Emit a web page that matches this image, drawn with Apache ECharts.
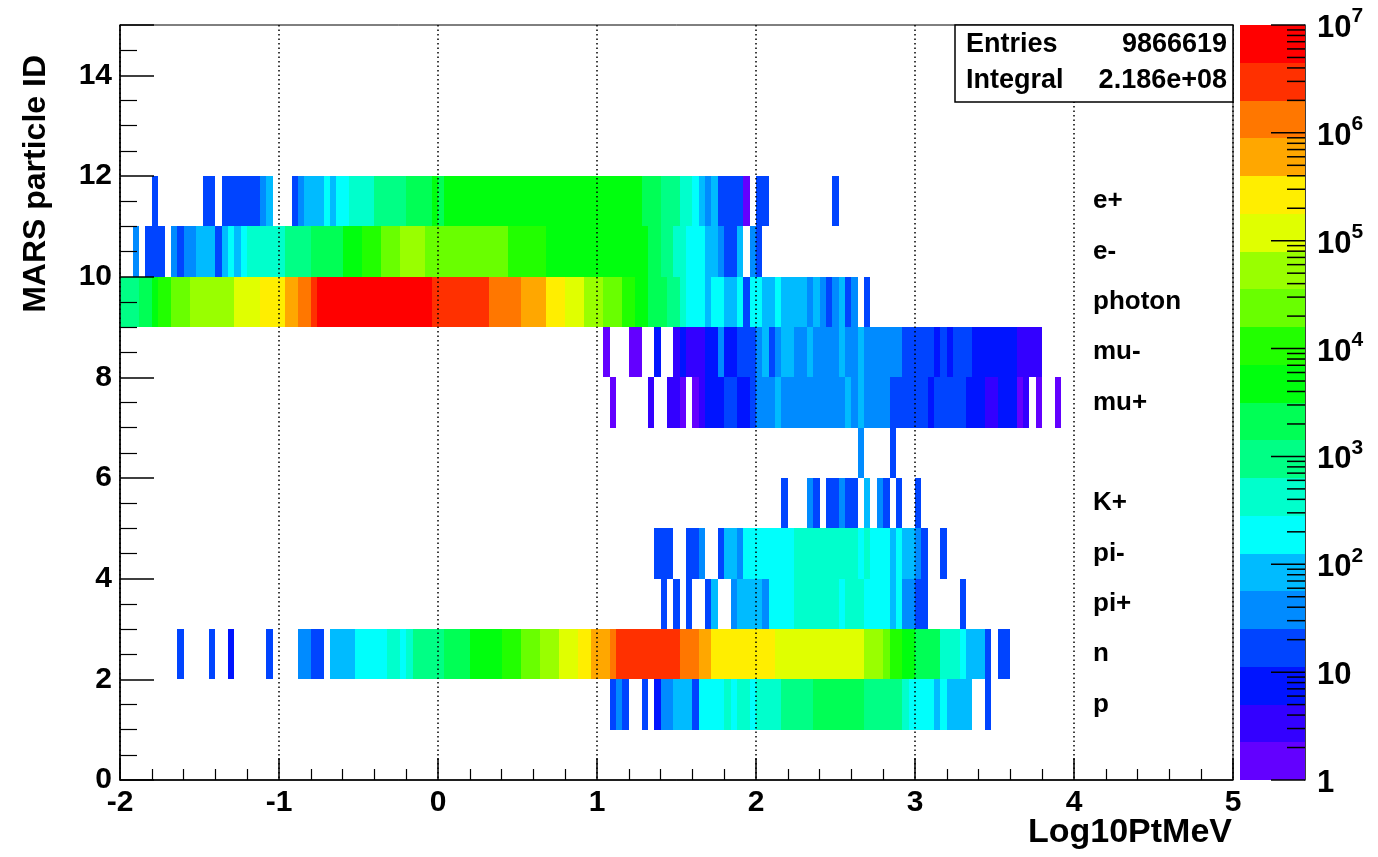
<!DOCTYPE html>
<html><head><meta charset="utf-8">
<script src="https://cdn.jsdelivr.net/npm/echarts@6/dist/echarts.min.js"></script>
<style>html,body{margin:0;padding:0;background:#fff}#c{width:1378px;height:857px}</style>
</head><body><div id="c"></div>
<script>
// ---- histogram binning (x = Log10PtMeV) ----
const xBinLow = -2, xBinWidth = 0.04;
const zLogMax = 7, zLevels = 20;

// ---- tick labels / names ----
const xTickValues = [-2, -1, 0, 1, 2, 3, 4, 5];
const yTickValues = [0, 2, 4, 6, 8, 10, 12, 14];
const zTickExponents = [0, 1, 2, 3, 4, 5, 6, 7];
const particleIds   = [11, 10, 9, 8, 7, 5, 4, 3, 2, 1];
const particleNames = ['e+', 'e-', 'photon', 'mu-', 'mu+', 'K+', 'pi-', 'pi+', 'n', 'p'];
const statsNames  = ['Entries', 'Integral'];
const statsValues = ['9866619', '2.186e+08'];

// ---- bin contents per particle ID row (first bin index + counts) ----
const ePlusFirstBin = 5;
const ePlusCounts = [18, 0,0,0,0,0,0,0, 18,18, 0, 18,18,18,18,18,18, 40,90, 0,0,0,
  18,40, 90,90,90, 200,90,200,200, 450,450,450,450, 1000,1000,1000,1000,1000,
  2200,2200,2200,2200, 5000,2200,
  5000,5000,5000,5000,5000,5000,5000,5000,5000,5000,
  5000,5000,5000,5000,5000,5000,5000,5000,5000,5000,
  5000,5000,5000,5000,5000,5000,5000,5000,5000,5000, 5000,
  2200,2200,2200, 1000,1000,1000, 450,450, 200,90,40,90, 18,18,18,18, 1.5,0,18,18,
  0,0,0,0,0,0,0,0,0,0, 18];

const eMinusFirstBin = 2;
const eMinusCounts = [40, 0, 18,18,18, 0, 40, 18, 40,40, 90,90,90, 18, 90, 200, 90, 200,
  450,450,450,450,450,450, 1000,1000,1000,1000, 2200,2200,2200,2200,2200,
  5000,5000,5000, 11000,11000,11000, 25000,25000,25000, 55000,55000,55000,55000,
  25000,25000,25000,25000,25000,25000,25000,25000,25000,25000,25000,25000,25000,
  11000,11000,11000,11000,11000,11000,
  5000,5000,5000,5000,5000,5000,5000,5000,5000,5000,5000,5000,5000,5000,5000,5000,
  2200,2200, 1000,1000, 450,450, 200,200,200, 90,90, 40, 18,18, 90, 0, 40, 18];

const photonFirstBin = 0;
const photonCounts = [1000,1000,1000, 2200,2200, 5000, 11000,11000, 25000,25000,25000,
  55000,55000,55000,55000,55000,55000,55000, 120000,120000,120000,120000,
  270000,270000,270000,270000, 600000,600000, 1400000,1400000, 3000000,
  7e6,7e6,7e6,7e6,7e6,7e6,7e6,7e6,7e6,7e6,7e6,7e6,7e6,7e6,7e6,7e6,7e6,7e6,
  3e6,3e6,3e6,3e6,3e6,3e6,3e6,3e6,3e6,
  1400000,1400000,1400000,1400000,1400000, 600000,600000,600000,600000,
  270000,270000,270000, 120000,120000,120000, 55000,55000,55000, 25000,25000,25000,
  11000,11000, 5000,5000, 2200,2200,2200, 1000,1000, 450, 200,200,200, 90, 200,200,
  90,90, 200, 18, 200,200, 90,90, 200, 90,90,90,90, 40, 90, 40, 18, 40, 90, 18, 40, 0, 18];

const muMinusFirstBin = 76;
const muMinusCounts = [1.5, 0,0,0, 1.5,1.5, 0,0, 8, 0,0, 3, 8, 3,3,3, 8,8, 40, 8,8,
  18,18,18, 40, 90, 18, 40, 90,90, 40,40, 90, 40,40,40, 40, 90, 40,40, 90,
  40,40,40,40,40,40, 18,18,18,18,18, 8, 18, 8, 18,18,18, 8,8,8,8,8,8,8, 3,3,3,3];

const muPlusFirstBin = 77;
const muPlusCounts = [1.5, 0,0,0,0,0, 3, 0,0, 3,3, 1.5, 0, 1.5, 3, 8,8,8, 18,18, 8,8, 18,
  40,40,40, 90, 40,40,40,40,40,40,40,40,40,40, 90, 40, 90, 40,40,40,40,
  18,18,18,18,18,18, 8, 18,18,18,18,18, 8,8,8, 3,3, 8,8,8, 1.5, 3, 0, 1.5, 0,0, 1.5];

const id6FirstBin = 116;
const id6Counts = [40, 0,0,0,0, 18];

const kPlusFirstBin = 104;
const kPlusCounts = [18, 0,0,0, 40, 18, 0, 18,18, 40, 18,18, 0, 90, 0, 40, 18, 0, 18, 0,0, 18];

const piMinusFirstBin = 84;
const piMinusCounts = [18,18,18, 0,0, 18,18, 40, 0,0, 18, 90,90, 40, 200,
  200,200,200,200,200,200,200, 450,450,450,450,450,450,450,450,450,450,
  200, 450, 200,200,200, 90, 200, 90,90, 40, 18, 0,0, 18];

const piPlusFirstBin = 85;
const piPlusCounts = [18, 0, 18, 0, 18, 0,0, 18, 90, 0,0, 40, 90,90,90,90, 40,
  200,200,200,200, 450,450,450,450,450,450,450, 200, 450,450,450,
  200,200,200,200, 90, 200, 40,40, 18,18, 0,0,0,0,0, 18];

const neutronFirstBin = 9;
const neutronCounts = [18, 0,0,0,0, 18, 0,0, 8, 0,0,0,0,0, 18, 0,0,0,0, 40,40, 18,18, 0,
  90,90,90,90, 200,200,200,200,200, 450,450, 200, 450, 1000,1000,1000,1000,1000,
  2200,2200,2200,2200, 5000,5000,5000,5000,5000, 11000,11000,11000, 25000,25000,25000,
  55000,55000,55000, 120000,120000,120000, 270000,270000, 600000,600000,600000, 1400000,
  3e6,3e6,3e6,3e6,3e6,3e6,3e6,3e6,3e6,3e6, 1400000,1400000,1400000, 600000,600000,
  270000,270000,270000,270000,270000,270000,270000,270000,270000,270000,
  120000,120000,120000,120000,120000,120000,120000,120000,120000,120000,120000,120000,120000,120000,
  55000,55000,55000, 25000, 11000,11000, 5000,5000, 2200,2200,2200,2200, 450,450,450, 200,
  90,90,90, 18, 0, 18,18];

const protonFirstBin = 77;
const protonCounts = [18, 40, 18, 0,0, 18, 0, 8, 40,40, 90,90,90, 18, 200,200,200,200, 450, 200,
  450,450, 200, 450,450,450,450, 1000,1000,1000,1000,1000,
  2200,2200,2200,2200,2200,2200,2200,2200, 1000,1000,1000,1000,1000,1000, 450,
  200,200,200,200, 90, 200, 90,90,90,90, 0,0, 18];

// ---- style ----
const palette = ['#6300ff','#3300ff','#0014ff','#0044ff','#008bff','#00bbff','#00fffc','#00ffcc',
  '#00ff85','#00ff55','#00ff0e','#22ff00','#69ff00','#99ff00','#e0ff00','#ffee00',
  '#ffa700','#ff7700','#ff3000','#ff0000'];
const FONT = '"Liberation Sans", Arial, Helvetica, sans-serif';

const rows = [
  [11, ePlusFirstBin, ePlusCounts], [10, eMinusFirstBin, eMinusCounts],
  [9, photonFirstBin, photonCounts], [8, muMinusFirstBin, muMinusCounts],
  [7, muPlusFirstBin, muPlusCounts], [6, id6FirstBin, id6Counts],
  [5, kPlusFirstBin, kPlusCounts], [4, piMinusFirstBin, piMinusCounts],
  [3, piPlusFirstBin, piPlusCounts], [2, neutronFirstBin, neutronCounts],
  [1, protonFirstBin, protonCounts]
];
const cells = [];
rows.forEach(([id, first, counts]) => {
  counts.forEach((v, k) => {
    if (v > 0) {
      const i = first + k;
      cells.push([xBinLow + i * xBinWidth, xBinLow + (i + 1) * xBinWidth, id, id + 1, v]);
    }
  });
});
const step = zLogMax / zLevels;
function colorFor(v) {
  let j = Math.floor(Math.log10(v) / step + 1e-9);
  j = Math.max(0, Math.min(zLevels - 1, j));
  return palette[j];
}
const bands = palette.map((c, j) => [j * step, (j + 1) * step, j]);
const zMinor = [];
for (let n = 0; n < zLogMax; n++) for (let k = 2; k <= 9; k++) zMinor.push([n + Math.log10(k), 0]);
const zMajor = zTickExponents.map(e => [e, 1]);

const chart = echarts.init(document.getElementById('c'), null, {renderer: 'canvas'});
const labelX = xBinLow + (1093 - 120) / 159.0;

chart.setOption({
  animation: false,
  backgroundColor: '#fff',
  grid: [
    {left: 120, right: 145, top: 25, bottom: 77, show: true, borderColor: '#000', borderWidth: 1, backgroundColor: 'transparent'},
    {left: 1240, width: 65, top: 25, bottom: 77, show: false}
  ],
  xAxis: [
    {type: 'value', gridIndex: 0, min: -2, max: 5, interval: 1, z: 4,
     axisLine: {show: true, onZero: false, lineStyle: {color: '#000', width: 1.5}},
     axisTick: {show: true, inside: true, length: 22, lineStyle: {color: '#000', width: 1.5}},
     minorTick: {show: true, splitNumber: 5, length: 11, lineStyle: {color: '#000', width: 1.2}},
     splitLine: {show: true, lineStyle: {color: '#000', type: [1.5, 3], width: 1.5}},
     axisLabel: {margin: 8, color: '#000', fontFamily: FONT, fontWeight: 'bold', fontSize: 30,
       formatter: v => xTickValues.includes(v) ? String(v) : ''}},
    {type: 'value', gridIndex: 1, min: 0, max: 1, show: false}
  ],
  yAxis: [
    {type: 'value', gridIndex: 0, min: 0, max: 15, interval: 2, z: 4,
     axisLine: {show: true, onZero: false, lineStyle: {color: '#000', width: 1.5}},
     axisTick: {show: true, inside: true, length: 34, lineStyle: {color: '#000', width: 1.5}},
     minorTick: {show: true, splitNumber: 4, length: 17, lineStyle: {color: '#000', width: 1.2}},
     splitLine: {show: false},
     axisLabel: {margin: 8, color: '#000', fontFamily: FONT, fontWeight: 'bold', fontSize: 30,
       formatter: v => yTickValues.includes(v) ? String(v) : ''}},
    {type: 'value', gridIndex: 1, min: 0, max: zLogMax, interval: 1, position: 'right',
     axisLine: {show: true, onZero: false, lineStyle: {color: '#000', width: 1.5}},
     axisTick: {show: false}, splitLine: {show: false},
     axisLabel: {margin: 12, color: '#000',
       formatter: v => v === 0 ? '{b|1}' : (v === 1 ? '{b|10}' : '{b|10}{s|' + v + '}'),
       rich: {
         b: {fontFamily: FONT, fontWeight: 'bold', fontSize: 31, lineHeight: 38, verticalAlign: 'bottom', color: '#000'},
         s: {fontFamily: FONT, fontWeight: 'bold', fontSize: 21, lineHeight: 38, verticalAlign: 'top', color: '#000'}
       }}}
  ],
  series: [
    {type: 'custom', xAxisIndex: 0, yAxisIndex: 0, z: 1, clip: true, data: cells,
     renderItem: (params, api) => {
       const a = api.coord([api.value(0), api.value(3)]);
       const b = api.coord([api.value(1), api.value(2)]);
       const l = Math.round(a[0]), r = Math.round(b[0]), t = Math.round(a[1]), bt = Math.round(b[1]);
       return {type: 'rect', shape: {x: l, y: t, width: r - l, height: bt - t},
               style: {fill: colorFor(api.value(4))}};
     }},
    {type: 'custom', xAxisIndex: 0, yAxisIndex: 0, z: 6, clip: false,
     data: particleIds.map((id, k) => [labelX, id + 0.5, particleNames[k]]),
     renderItem: (params, api) => {
       const p = api.coord([api.value(0), api.value(1)]);
       return {type: 'text', x: p[0], y: p[1],
         style: {text: particleNames[params.dataIndex], fill: '#000',
                 font: 'bold 26px ' + FONT, align: 'left', verticalAlign: 'middle'}};
     }},
    {type: 'custom', xAxisIndex: 1, yAxisIndex: 1, z: 1, clip: false, data: bands,
     renderItem: (params, api) => {
       const a = api.coord([0, api.value(1)]);
       const b = api.coord([1, api.value(0)]);
       const t = Math.round(a[1]), bt = Math.round(b[1]);
       return {type: 'rect', shape: {x: a[0], y: t, width: b[0] - a[0], height: bt - t},
               style: {fill: palette[api.value(2)]}};
     }},
    {type: 'custom', xAxisIndex: 1, yAxisIndex: 1, z: 3, clip: false, data: zMinor.concat(zMajor),
     renderItem: (params, api) => {
       const p = api.coord([1, api.value(0)]);
       const len = api.value(1) ? 34 : 18;
       return {type: 'line', shape: {x1: p[0], y1: p[1], x2: p[0] - len, y2: p[1]},
               style: {stroke: '#000', lineWidth: 1.5}};
     }}
  ],
  graphic: [
    {type: 'rect', z: 20, shape: {x: 955, y: 25, width: 278, height: 77},
     style: {fill: '#fff', stroke: '#000', lineWidth: 1.5}},
    {type: 'text', z: 21, x: 966, y: 45, style: {text: statsNames[0], font: 'bold 27px ' + FONT, fill: '#000', align: 'left', verticalAlign: 'middle'}},
    {type: 'text', z: 21, x: 1227, y: 45, style: {text: statsValues[0], font: 'bold 27px ' + FONT, fill: '#000', align: 'right', verticalAlign: 'middle'}},
    {type: 'text', z: 21, x: 966, y: 81, style: {text: statsNames[1], font: 'bold 27px ' + FONT, fill: '#000', align: 'left', verticalAlign: 'middle'}},
    {type: 'text', z: 21, x: 1227, y: 81, style: {text: statsValues[1], font: 'bold 27px ' + FONT, fill: '#000', align: 'right', verticalAlign: 'middle'}},
    {type: 'text', z: 21, x: 1232, y: 833, style: {text: 'Log10PtMeV', font: 'bold 34px ' + FONT, fill: '#000', align: 'right', verticalAlign: 'middle'}},
    {type: 'text', z: 21, x: 36, y: 55, rotation: Math.PI / 2,
     style: {text: 'MARS particle ID', font: 'bold 32px ' + FONT, fill: '#000', align: 'right', verticalAlign: 'middle'}}
  ]
});
</script>
</body></html>
